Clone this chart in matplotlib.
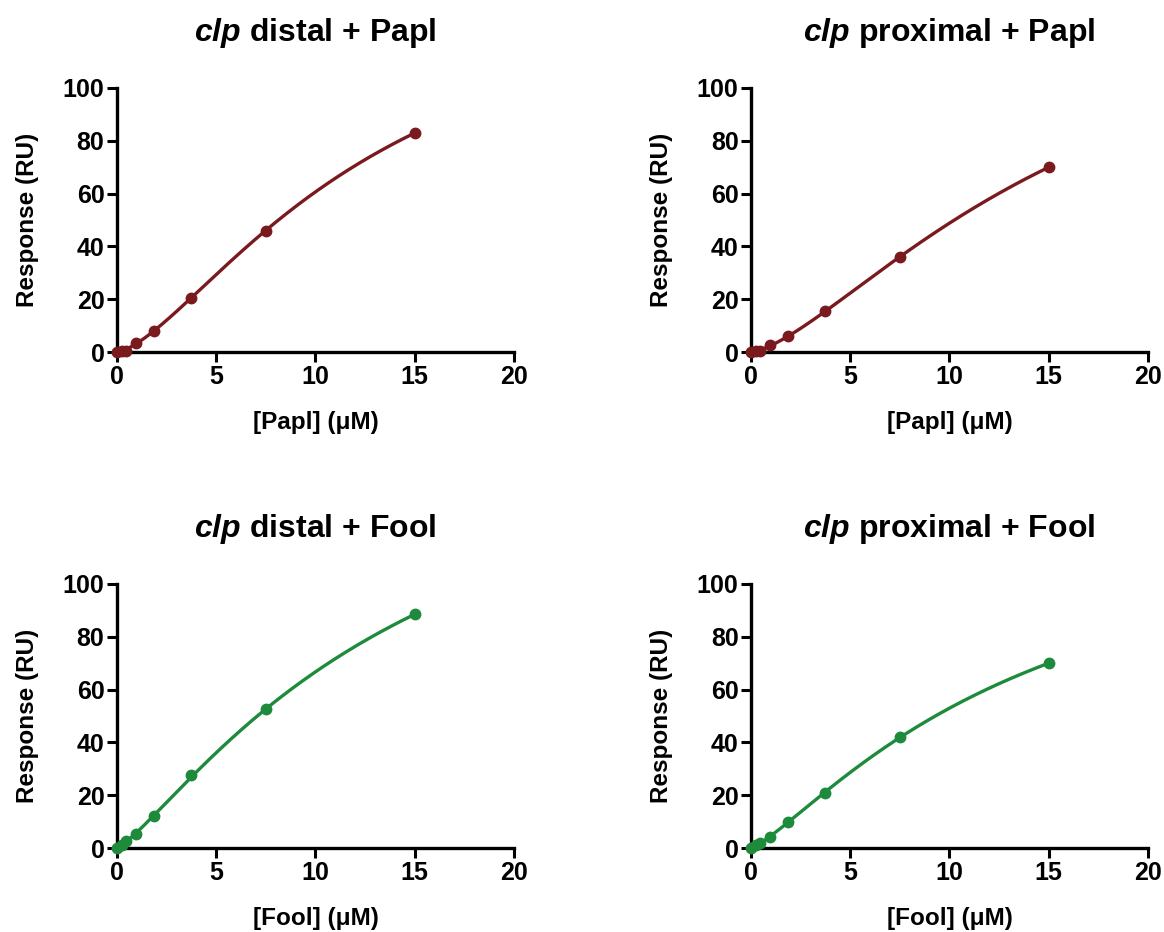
import numpy as np
import matplotlib
matplotlib.use("Agg")
import matplotlib.pyplot as plt

plt.rcParams['font.family'] = ['Liberation Sans', 'DejaVu Sans']
plt.rcParams['font.weight'] = 'bold'
plt.rcParams['mathtext.fontset'] = 'custom'
plt.rcParams['mathtext.bfit'] = 'Liberation Sans:bold:italic'
plt.rcParams['mathtext.rm'] = 'Liberation Sans:bold'

# concentrations (uM)
conc = [0, 0.234, 0.469, 0.9375, 1.875, 3.75, 7.5, 15]

# responses (RU)
distal_papl = [0, 0.2, 0.5, 3.5, 8, 20.5, 46, 83]
proximal_papl = [0, 0.2, 0.5, 2.5, 6, 15.5, 36, 70]
distal_fool = [0, 1, 2.5, 5.5, 12, 27.5, 52.5, 88.5]
proximal_fool = [0, 1, 2, 4, 10, 21, 42, 70]

titles = [r"$\mathbfit{clp}$ distal + Papl", r"$\mathbfit{clp}$ proximal + Papl",
          r"$\mathbfit{clp}$ distal + Fool", r"$\mathbfit{clp}$ proximal + Fool"]
xlabels = ["[Papl] (\u03bcM)", "[Papl] (\u03bcM)", "[Fool] (\u03bcM)", "[Fool] (\u03bcM)"]
series = [distal_papl, proximal_papl, distal_fool, proximal_fool]

RED = "#7a1a1e"
GREEN = "#1e8a3c"
colors = [RED, RED, GREEN, GREEN]


def hill_fit(x, y):
    """Brute force fit of y = Bmax*x^h/(K^h + x^h)."""
    x = np.asarray(x, float)
    y = np.asarray(y, float)
    best = None
    for h in np.linspace(0.8, 3.0, 111):
        for K in np.linspace(2, 80, 391):
            f = x**h / (K**h + x**h)
            B = f.dot(y) / f.dot(f)
            r = np.sum((B * f - y) ** 2)
            if best is None or r < best[0]:
                best = (r, B, K, h)
    _, B, K, h = best
    return lambda t: B * t**h / (K**h + t**h)


fig = plt.figure(figsize=(11.64, 9.32), dpi=100)
lefts = [0.1005, 0.6452, 0.1005, 0.6452]
bottoms = [0.6223, 0.6223, 0.0901, 0.0901]

for i in range(4):
    ax = fig.add_axes([lefts[i], bottoms[i], 0.341, 0.2833])
    f = hill_fit(conc, series[i])
    xs = np.linspace(0, 15, 300)
    ax.plot(xs, f(xs), color=colors[i], lw=2.4, zorder=3, clip_on=False)
    ax.plot(conc, series[i], 'o', color=colors[i], ms=7.5, zorder=4, clip_on=False)

    ax.set_xlim(0, 20)
    ax.set_ylim(0, 100)
    ax.set_xticks([0, 5, 10, 15, 20])
    ax.set_yticks([0, 20, 40, 60, 80, 100])
    for s in ['top', 'right']:
        ax.spines[s].set_visible(False)
    for s in ['left', 'bottom']:
        ax.spines[s].set_linewidth(2.4)
    ax.tick_params(width=2.2, length=7, labelsize=18, direction='out', pad=2)
    for lab in ax.get_xticklabels() + ax.get_yticklabels():
        lab.set_fontweight('bold')
    ax.set_title(titles[i], fontsize=23, fontweight='bold', pad=34)
    ax.set_xlabel(xlabels[i], fontsize=17.5, fontweight='bold', labelpad=16)
    ax.set_ylabel("Response (RU)", fontsize=17.5, fontweight='bold', labelpad=17)

fig.savefig("out.png", dpi=100)
